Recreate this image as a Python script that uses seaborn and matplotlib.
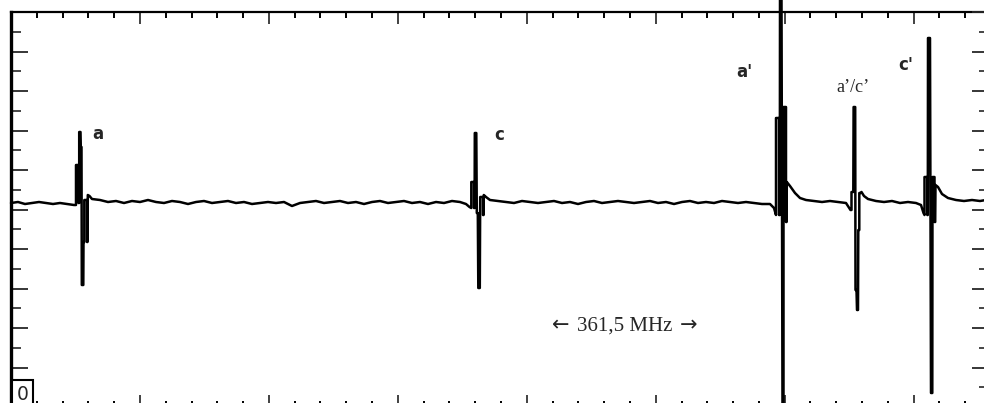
import matplotlib
matplotlib.use("Agg")
import matplotlib.pyplot as plt
import numpy as np
import pandas as pd
import seaborn as sns

# ---------------- data (sweep channel, signal counts) ----------------
base0_ch = [0, 7, 14, 21, 28, 35, 42, 49, 56, 63]
base0_ct = [204, 205, 203, 204, 205, 204, 203, 204, 203, 202]

peak_a_ch = [65, 65, 67.5, 67.5, 68.2, 68.2, 69.5, 69.8, 70.5, 70.8, 72.3, 72.5,
             73.3, 73.3, 76, 76, 76.5, 76.8, 78.5, 81]
peak_a_ct = [202, 242, 242, 204, 204, 275, 275, 260, 260, 122, 122, 165,
             165, 207, 207, 165, 165, 212, 211, 208]

base1_ch = list(range(89, 450, 8))
base1_ct = [207, 205, 206, 204, 206, 205, 207, 205, 204, 206,
            205, 203, 205, 206, 204, 205, 206, 204, 205, 203,
            204, 205, 204, 205, 201, 204, 205, 206, 204, 205,
            206, 204, 205, 203, 205, 206, 204, 205, 206, 204,
            205, 203, 205, 204, 206, 205]

peak_c_ch = [455, 458.5, 460.3, 460.3, 463, 463, 463.6, 463.8, 465.3, 465.8, 466.8,
             467.3, 468.8, 469.2, 469.2, 472, 472, 472.6, 472.8, 475, 479]
peak_c_ct = [203, 200, 199, 225, 225, 199, 199, 274, 274, 194, 194,
             119, 119, 192, 210, 210, 192, 192, 212, 210, 207]

base2_ch = list(range(487, 760, 8))
base2_ct = [206, 205, 204, 206, 205, 204, 205, 206, 204, 205,
            203, 205, 206, 204, 205, 206, 205, 204, 205, 206,
            204, 205, 203, 205, 206, 204, 205, 204, 206, 205,
            204, 205, 204, 203, 203]

peak_a2_ch = [763, 765, 765, 768, 768, 768.8, 769, 770.5, 771.5, 772.5, 772.5,
              775, 775, 775.6, 775.8, 779, 784, 789, 795]
peak_a2_ct = [199, 192, 289, 289, 192, 192, 412, 412, -3, -3, 300,
              300, 185, 185, 225, 221, 214, 209, 207]

base3_ch = [803, 811, 819, 827, 835]
base3_ct = [206, 205, 206, 205, 204]

peak_ac_ch = [839.5, 840.5, 840.5, 842.3, 842.6, 844.2, 844.5, 845.5, 846, 847,
              847.3, 848.3, 848.3, 849.5, 850.5, 853, 857]
peak_ac_ct = [197, 197, 215, 215, 300, 300, 117, 117, 97, 97,
              177, 177, 214, 214, 215, 211, 208]

base4_ch = [865, 873, 881, 889, 897, 905]
base4_ct = [206, 205, 206, 204, 205, 204]

peak_c2_ch = [910, 912.5, 913.5, 913.5, 916.3, 916.3, 916.8, 917, 919, 920, 921.3,
              921.5, 923.5, 923.5, 924.2, 924.5, 927, 931, 937]
peak_c2_ct = [202, 194, 192, 230, 230, 192, 192, 369, 369, 14, 14,
              230, 230, 185, 185, 222, 220, 213, 209]

base5_ch = [945, 953, 961, 969, 975]
base5_ct = [207, 206, 207, 206, 207]

trace_ch = (base0_ch + peak_a_ch + base1_ch + peak_c_ch + base2_ch + peak_a2_ch
            + base3_ch + peak_ac_ch + base4_ch + peak_c2_ch + base5_ch)
trace_ct = (base0_ct + peak_a_ct + base1_ct + peak_c_ct + base2_ct + peak_a2_ct
            + base3_ct + peak_ac_ct + base4_ct + peak_c2_ct + base5_ct)

labels_sans = ["a", "c", "a'", "c'"]
labels_sans_ch = [87.3, 488, 733, 895]
labels_sans_ct = [267.7, 267, 330, 337]
label_serif = "a\u2019/c\u2019"
label_serif_pos = (842.3, 315)
span_parts = ["\u2190", "361,5 MHz", "\u2192"]
span_parts_ch = [549.7, 613.7, 677.3]
span_ct = 76

X_MAX = 975
Y_MAX = 395
X_MINOR = 25.79

df = pd.DataFrame({"ch": trace_ch, "ct": trace_ct})

# ---------------- figure ----------------
sns.set_style("white")
plt.rcParams["font.family"] = ["DejaVu Sans"]

fig = plt.figure(figsize=(9.84, 4.03), dpi=100)
ax = fig.add_axes([11 / 984, -4 / 403, 975 / 984, 395 / 403])

sns.lineplot(data=df, x="ch", y="ct", sort=False, estimator=None, color="black",
             lw=1.8, ax=ax, clip_on=False)

ax.set_xlim(0, X_MAX)
ax.set_ylim(0, Y_MAX)
ax.set_xlabel("")
ax.set_ylabel("")

xminor = np.arange(0, X_MAX, X_MINOR)
xmajor = xminor[::5]
yall = np.linspace(0, Y_MAX, 21)
ymajor = yall[::2]
ax.set_xticks(xmajor)
ax.set_xticks(xminor, minor=True)
ax.set_yticks(ymajor)
ax.set_yticks(yall, minor=True)
ax.set_xticklabels([])
ax.set_yticklabels([])
ax.tick_params(axis="x", which="both", direction="in", top=True, bottom=True,
               labelbottom=False, color="black")
ax.tick_params(axis="x", which="major", length=8.6, width=1.3, color="#333333")
ax.tick_params(axis="x", which="minor", length=4.3, width=1.4)
ax.tick_params(axis="y", which="both", direction="in", left=True, right=False,
               labelleft=False)
ax.tick_params(axis="y", which="major", length=12.2, width=1.3)
ax.tick_params(axis="y", which="minor", length=7.0, width=1.2)

ax.spines["left"].set_linewidth(2.4)
ax.spines["top"].set_linewidth(1.6)
ax.spines["right"].set_linewidth(1.6)
ax.spines["bottom"].set_linewidth(1.6)
for s in ax.spines.values():
    s.set_color("black")

ax2 = ax.twinx()
ax2.set_ylim(0, Y_MAX)
ax2.set_yticks(ymajor)
ax2.set_yticks(yall, minor=True)
ax2.set_yticklabels([])
ax2.tick_params(axis="y", which="both", direction="in", right=True, labelright=False)
ax2.tick_params(axis="y", which="major", length=10, width=1.3)
ax2.tick_params(axis="y", which="minor", length=5, width=1.2)
ax2.grid(False)
for s in ax2.spines.values():
    s.set_visible(False)

for t, x, y in zip(labels_sans, labels_sans_ch, labels_sans_ct):
    ax.text(x, y, t, ha="center", va="baseline", fontsize=12, fontweight="bold",
            family=["DejaVu Sans"])

ax.text(label_serif_pos[0], label_serif_pos[1], label_serif, ha="center",
        va="baseline", fontsize=13, family=["Liberation Serif", "DejaVu Serif"])

for part, x in zip(span_parts, span_parts_ch):
    fam = ["Liberation Serif"] if part[0].isdigit() else ["DejaVu Sans"]
    ax.text(x, span_ct, part, ha="center", va="baseline", fontsize=15, family=fam)

ax.text(11.5, 7, "0", ha="center", va="baseline", fontsize=13.5,
        family=["DejaVu Sans"],
        bbox=dict(boxstyle="square,pad=0.25", fc="white", ec="black", lw=1.5))

fig.savefig("out.png", dpi=100)
